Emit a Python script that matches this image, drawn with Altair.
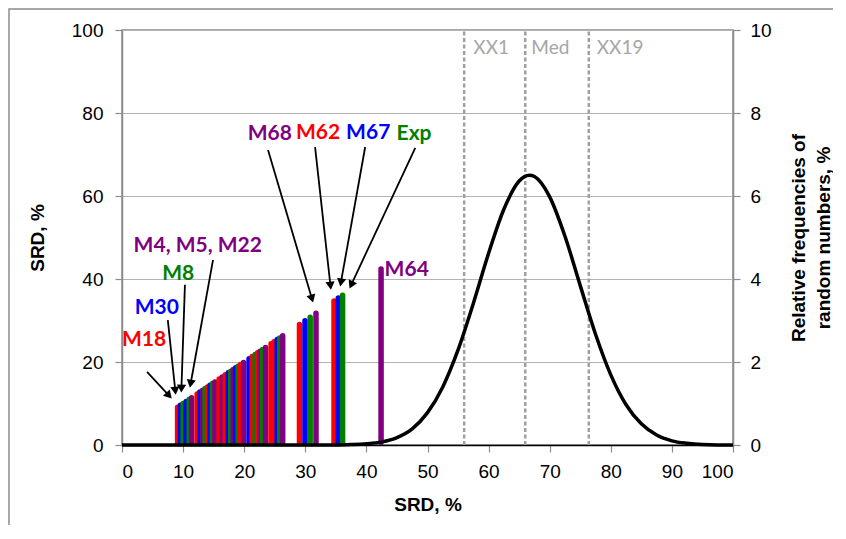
import math
import altair as alt
import pandas as pd

# ---------------- data ----------------
# SRD bars (x position = SRD value, bar height = SRD value), colour code per model
bar_srd = [9.1, 9.55, 10.0, 10.5, 11.0, 11.4,
           12.3, 12.75, 13.2, 13.6, 14.0, 14.4, 14.8, 15.2,
           15.9, 16.4, 16.9, 17.4, 17.8, 18.2, 18.6, 19.0, 19.4, 19.9,
           20.8, 21.3, 21.8, 22.2, 22.6, 23.0, 23.5,
           24.4, 24.9, 25.4, 25.8, 26.3,
           29.05, 29.95, 30.8, 31.75,
           34.7, 35.4, 36.1,
           42.4]
bar_col = ["R", "B", "G", "B", "G", "P",
           "R", "B", "P", "G", "R", "B", "G", "P",
           "R", "P", "R", "B", "G", "P", "B", "G", "R", "P",
           "B", "R", "G", "R", "P", "G", "P",
           "R", "R", "B", "G", "P",
           "R", "B", "G", "P",
           "R", "B", "G",
           "P"]

# distribution of random numbers (right axis, %)
curve_x = [0, 30, 35, 37.5, 40, 42.5, 45, 47.5, 50, 52.5, 55, 57.5, 60, 62.5, 65, 66.7,
           67.5, 70, 72.5, 75, 77.5, 80, 82.5, 85, 87.5, 90, 92.5, 95, 97.5, 100]
curve_y = [0, 0, 0, 0.01, 0.03, 0.075, 0.18, 0.39, 0.78, 1.40, 2.29, 3.41, 4.62, 5.68, 6.36, 6.5,
           6.47, 5.98, 5.03, 3.84, 2.67, 1.69, 0.97, 0.51, 0.24, 0.10, 0.04, 0.01, 0, 0]

# XX1, Med, XX19 limits
limit_x = [56.0, 66.0, 76.4]
limit_name = ["XX1", "Med", "XX19"]
limit_label_x = [57.5, 67.0, 77.7]
limit_label_y = [95.6, 95.6, 95.6]

# model labels
label_text = ["M18", "M30", "M8", "M4, M5, M22", "M68", "M62", "M67", "Exp", "M64"]
label_x = [3.6, 5.7, 9.2, 12.4, 24.2, 32.1, 40.3, 47.8, 46.6]
label_y = [25.3, 33.0, 41.2, 47.9, 75.0, 75.2, 75.2, 75.0, 42.2]
label_col = ["R", "B", "G", "P", "P", "R", "B", "G", "P"]

# arrows from label to bar
arrow_x1 = [4.1, 7.5, 10.3, 14.9, 23.9, 31.6, 39.8, 48.0]
arrow_y1 = [17.6, 30.1, 38.6, 44.6, 71.1, 71.8, 71.8, 71.6]
arrow_x2 = [8.2, 8.8, 9.7, 11.1, 31.3, 34.2, 35.7, 37.2]
arrow_y2 = [11.1, 12.0, 12.5, 13.7, 34.2, 37.3, 38.1, 37.6]

# ---------------- layout ----------------
W, H = 611, 415
PX, PY = W / 100.0, H / 100.0

col_domain = ["R", "B", "G", "P"]
col_range = ["#FF0000", "#0000FF", "#008000", "#800080"]
col_scale = alt.Scale(domain=col_domain, range=col_range)

xs = alt.Scale(domain=[0, 100], nice=False, zero=False)
yl = alt.Scale(domain=[0, 100], nice=False)
yr = alt.Scale(domain=[0, 10], nice=False)

AX_FONT = "Liberation Sans"
LBL_FONT = "Lato"
GRAY = "#8C8C8C"

bars_df = pd.DataFrame({"srd": bar_srd, "c": bar_col})
curve_df = pd.DataFrame({"x": curve_x, "y": curve_y})
lim_df = pd.DataFrame({"x": limit_x, "name": limit_name, "lx": limit_label_x, "ly": limit_label_y})
lab_df = pd.DataFrame({"t": label_text, "x": label_x, "y": label_y, "c": label_col})

rows = []
for x1, y1, x2, y2 in zip(arrow_x1, arrow_y1, arrow_x2, arrow_y2):
    dxp = (x2 - x1) * PX
    dyp = (y2 - y1) * PY
    L = math.hypot(dxp, dyp)
    back = 4.5
    cx = x2 - dxp / L * back / PX
    cy = y2 - dyp / L * back / PY
    ang = math.degrees(math.atan2(dxp, dyp)) % 360
    rows.append({"x1": x1, "y1": y1, "x2": cx, "y2": cy, "ang": ang})
arr_df = pd.DataFrame(rows)

left_axis = alt.Axis(values=[0, 20, 40, 60, 80, 100], grid=True, gridColor="#B4B4B4", gridWidth=1.2,
                     domainColor=GRAY, domainWidth=1.5, tickColor=GRAY, tickSize=7, tickWidth=1.2,
                     labelFont=AX_FONT, labelFontSize=19, labelColor="#000000", labelPadding=12,
                     title="SRD, %", titleFont=AX_FONT, titleFontSize=19, titleFontWeight="bold",
                     titleColor="#000000", titlePadding=24)
x_axis = alt.Axis(values=list(range(0, 101, 10)), grid=False, domainColor="#000000", domainWidth=1.5,
                  tickColor=GRAY, tickSize=7, tickWidth=1.2,
                  labelFont=AX_FONT, labelFontSize=19, labelColor="#000000", labelPadding=10,
                  title="SRD, %", titleFont=AX_FONT, titleFontSize=19, titleFontWeight="bold",
                  titleColor="#000000", titlePadding=14)


def X(field):
    return alt.X(field, scale=xs, axis=x_axis)


def YL(field):
    return alt.Y(field, scale=yl, axis=left_axis)


frame = alt.Chart(pd.DataFrame({"a": [0]})).mark_rect(fill=None, stroke=GRAY, strokeWidth=1.5).encode(
    x=alt.value(-113), x2=alt.value(1200), y=alt.value(-21), y2=alt.value(1200))

limits = alt.Chart(lim_df).mark_rule(color="#A0A0A0", strokeWidth=2.5, strokeDash=[4, 2.5]).encode(
    x=X("x:Q"), y=YL("y0:Q"), y2=alt.Y2("y1:Q")).transform_calculate(y0="0", y1="100")

limit_text = alt.Chart(lim_df).mark_text(font=LBL_FONT, fontSize=19, color="#A6A6A6", align="left",
                                          baseline="middle").encode(
    x=X("lx:Q"), y=YL("ly:Q"), text="name:N")

bars = alt.Chart(bars_df).mark_rule(strokeWidth=5.5, strokeCap="round").encode(
    x=X("srd:Q"),
    y=YL("srd:Q"),
    y2=alt.Y2("base:Q"),
    color=alt.Color("c:N", scale=col_scale, legend=None),
).transform_calculate(base="0.6")

arrow_lines = alt.Chart(arr_df).mark_rule(color="#000000", strokeWidth=1.8).encode(
    x=X("x1:Q"), y=YL("y1:Q"), x2="x2:Q", y2="y2:Q")
arrow_heads = alt.Chart(arr_df).mark_point(shape="triangle-up", filled=True, color="#000000",
                                           size=85, opacity=1).encode(
    x=X("x2:Q"), y=YL("y2:Q"), angle=alt.Angle("ang:Q", scale=None))

labels = alt.Chart(lab_df).mark_text(font=LBL_FONT, fontSize=21, fontWeight="bold",
                                     align="center", baseline="middle").encode(
    x=X("x:Q"), y=YL("y:Q"), text="t:N",
    color=alt.Color("c:N", scale=col_scale, legend=None))

left_layer = alt.layer(bars, limits, limit_text, arrow_lines, arrow_heads, labels, frame)

right_axis = alt.Axis(orient="right", values=[0, 2, 4, 6, 8, 10], grid=False,
                      domainColor=GRAY, domainWidth=1.5, tickColor=GRAY, tickSize=7, tickWidth=1.2,
                      labelFont=AX_FONT, labelFontSize=19, labelColor="#000000", labelPadding=10,
                      title=["Relative frequencies of", "random numbers, %"], titleFont=AX_FONT,
                      titleFontSize=19, titleFontWeight="bold", titleColor="#000000",
                      titleAngle=270, titlePadding=12, titleLineHeight=25)

curve = alt.Chart(curve_df).mark_line(color="#000000", strokeWidth=3.5, interpolate="monotone").encode(
    x=X("x:Q"),
    y=alt.Y("y:Q", scale=yr, axis=right_axis))

chart = alt.layer(left_layer, curve).resolve_scale(y="independent").properties(
    width=W, height=H,
    padding={"left": 114, "top": 22, "right": 100, "bottom": 80},
    autosize=alt.AutoSizeParams(type="none"),
    background="#FFFFFF",
).configure_view(stroke=GRAY, strokeWidth=1.5)

chart.save("out.html", embed_options={"renderer": "svg", "actions": False})
